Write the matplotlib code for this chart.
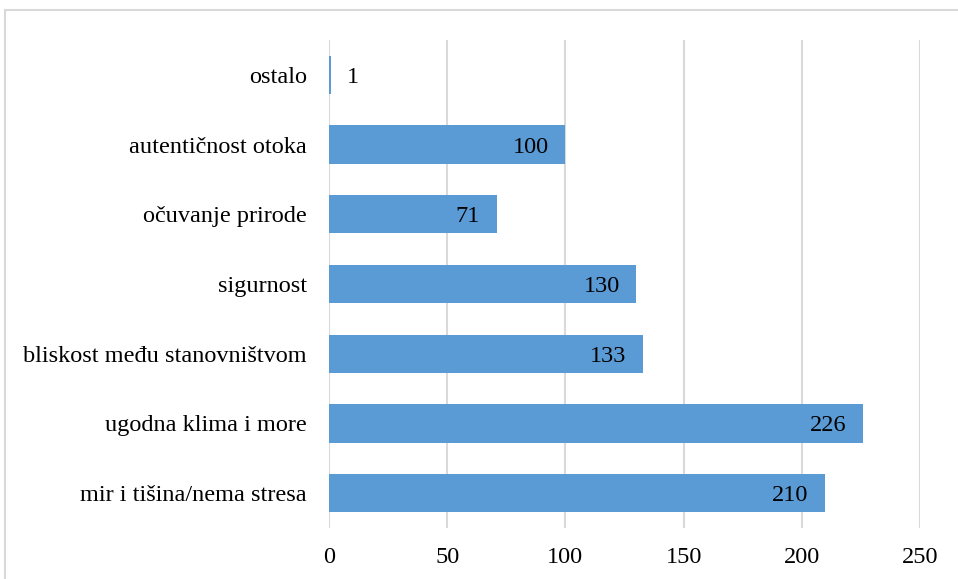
import matplotlib
matplotlib.use("Agg")
import matplotlib.pyplot as plt
from matplotlib.patches import Rectangle

categories = ["mir i tišina/nema stresa", "ugodna klima i more", "bliskost među stanovništvom",
              "sigurnost", "očuvanje prirode", "autentičnost otoka", "ostalo"]
values = [210, 226, 133, 130, 71, 100, 1]
xticks = [0, 50, 100, 150, 200, 250]

plt.rcParams['font.family'] = ['Liberation Serif', 'DejaVu Serif']
FS = 17.5

fig = plt.figure(figsize=(9.58, 5.79), dpi=100)
ax = fig.add_axes([0.3434, 0.088, 0.6169, 0.843])

ypos = list(range(len(categories)))
ax.barh(ypos, values, height=0.55, color='#5B9BD5', zorder=3)
ax.set_xlim(0, 250)
ax.set_ylim(-0.5, len(categories) - 0.5)
ax.set_xticks(xticks)
ax.set_xticklabels([str(t) for t in xticks], fontsize=FS)
ax.set_yticks(ypos)
ax.set_yticklabels(categories, fontsize=FS, va='center_baseline')
ax.grid(axis='x', color='#D9D9D9', linewidth=1.5, zorder=0)
for s in ax.spines.values():
    s.set_visible(False)
ax.tick_params(axis='y', length=0, pad=16)
ax.tick_params(axis='x', length=0, pad=14)

for y, v in zip(ypos, values):
    if v < 20:
        ax.annotate(str(v), (v, y), xytext=(11, 0), textcoords='offset points',
                    ha='left', va='center_baseline', fontsize=FS, zorder=4)
    else:
        ax.annotate(str(v), (v, y), xytext=(-12, 0), textcoords='offset points',
                    ha='right', va='center_baseline', fontsize=FS, zorder=4)

fig.patches.append(Rectangle((5 / 958, -0.1), 2, 1 - 10 / 579 + 0.1, transform=fig.transFigure,
                             fill=False, edgecolor='#D9D9D9', linewidth=1.5))

fig.savefig("out.png", dpi=100)
